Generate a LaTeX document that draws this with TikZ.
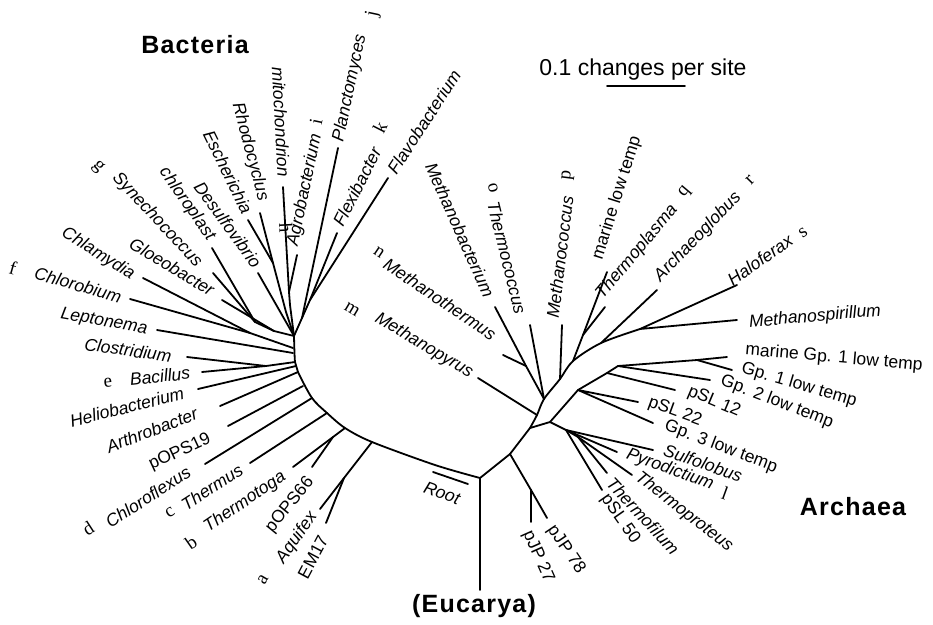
\documentclass[tikz,border=0pt]{standalone}
\usepackage{fontspec}
\setmainfont{Liberation Serif}
\setsansfont{Liberation Sans}
\newfontfamily\domfont[LetterSpace=5]{Liberation Sans}
\begin{document}
\begin{tikzpicture}[x=1pt,y=-1pt,
  br/.style={line width=1.8pt, line cap=round, line join=round},
  sp/.style={font=\fontsize{17.5}{18}\selectfont\sffamily\itshape, inner sep=0pt},
  cl/.style={font=\fontsize{17.5}{18}\selectfont\sffamily, inner sep=0pt},
  lt/.style={font=\fontsize{19}{20}\selectfont\rmfamily, inner sep=0pt},
  dom/.style={font=\fontsize{25}{26}\selectfont\domfont\bfseries, inner sep=0pt},
  sc/.style={font=\fontsize{23}{24}\selectfont\sffamily, inner sep=0pt}]
\fill[white] (0,0) rectangle (933,624);
\useasboundingbox (0,0) rectangle (933,624);

% ---------- root and eucarya
\coordinate (R) at (480,478);
\coordinate (Euk) at (480,590);
\draw[br] (R) -- (Euk);
\coordinate (rootA) at (433,472);
\coordinate (rootB) at (468,484);
\draw[br] (rootA) -- (rootB);

% ---------- bacterial stem
\coordinate (H0) at (294,336);
\coordinate (S1) at (293,348);
\coordinate (S2) at (293,353);
\coordinate (S3) at (295,362);
\coordinate (S4) at (296,366);
\coordinate (S5) at (298,372);
\coordinate (S6) at (303,386);
\coordinate (S7) at (312,398);
\coordinate (S8) at (327,413);
\coordinate (S9) at (345,428);
\coordinate (S10) at (372,442);
\coordinate (S11) at (435,465);
\draw[br] plot[smooth, tension=0.5] coordinates {(H0) (S3) (S5) (S7) (S8) (S9) (S10) (S11) (R)};

% tips and inner nodes (bacteria)
\coordinate (tPlan) at (338,148);
\coordinate (tFlex) at (337,233);
\coordinate (tFlavo) at (388,178);
\coordinate (K1) at (310,300);
\coordinate (K2) at (302,318);
\draw[br] (tFlavo) -- (K1) -- (K2) -- (H0);
\draw[br] (tFlex) -- (K1);
\draw[br] (tPlan) -- (K2);

\coordinate (tMito) at (283,187);
\coordinate (Ag) at (289,292);
\coordinate (M1) at (290,305);
\coordinate (tAgro) at (297,255);
\draw[br] (tMito) -- (Ag) -- (M1) -- (H0);
\draw[br] (tAgro) -- (Ag);
\coordinate (tRhodo) at (260,213);
\coordinate (R2) at (273,263);
\coordinate (R1) at (286,312);
\coordinate (tEsch) at (248,220);
\draw[br] (tRhodo) -- (R2) -- (R1) -- (H0);
\draw[br] (tEsch) -- (R2);
\coordinate (tDesulf) at (258,273);
\draw[br] (tDesulf) -- (H0);

\coordinate (tChloro) at (212,248);
\coordinate (tSyn) at (213,273);
\coordinate (Cy1) at (255,322);
\coordinate (tGloeo) at (222,300);
\coordinate (Cy2) at (274,331);
\draw[br] (tChloro) -- (Cy1) -- (Cy2) -- (H0);
\draw[br] (tSyn) -- (Cy1);
\draw[br] (tGloeo) -- (Cy2);

\coordinate (tChlam) at (143,278);
\coordinate (tChlor) at (130,299);
\coordinate (Ch1) at (250,333);
\draw[br] (tChlam) -- (Ch1) -- (S1);
\draw[br] (tChlor) -- (Ch1);
\coordinate (tLept) at (157,330);
\draw[br] (tLept) -- (S2);
\coordinate (tClos) at (187,357);
\coordinate (tBac) at (202,372);
\coordinate (Bc) at (266,366);
\draw[br] (tClos) -- (Bc) -- (S3);
\draw[br] (tBac) -- (Bc);
\coordinate (tHelio) at (198,389);
\draw[br] (tHelio) -- (S4);
\coordinate (tArth) at (220,406);
\draw[br] (tArth) -- (S5);
\coordinate (tP19) at (228,426);
\draw[br] (tP19) -- (S6);
\coordinate (tChfl) at (205,464);
\draw[br] (tChfl) -- (S7);
\coordinate (tThs) at (250,463);
\draw[br] (tThs) -- (S8);
\coordinate (tTga) at (293,467);
\coordinate (T66) at (333,437);
\coordinate (tP66) at (312,467);
\draw[br] (tTga) -- (T66) -- (S9);
\draw[br] (tP66) -- (T66);
\coordinate (tAqu) at (320,509);
\coordinate (Em1) at (344,478);
\coordinate (tEM) at (326,523);
\draw[br] (tAqu) -- (Em1) -- (S10);
\draw[br] (tEM) -- (Em1);

% ---------- archaea
\coordinate (J1) at (510,454);
\coordinate (V) at (530,428);
\coordinate (Mp) at (537,415);
\coordinate (E1) at (544,399);
\coordinate (E2) at (560,379);
\coordinate (E3) at (573,361);
\coordinate (E4) at (601,343);
\coordinate (E5) at (640,329);
\draw[br] (R) -- (J1) -- (V);
\draw[br] plot[smooth, tension=0.5] coordinates {(V) (Mp) (E1) (E2) (E3) (E4) (E5)};
\coordinate (tJ78) at (547,518);
\coordinate (J27) at (531,490);
\coordinate (tJ27) at (531,522);
\draw[br] (J1) -- (J27) -- (tJ78);
\draw[br] (J27) -- (tJ27);

\coordinate (tMpyr) at (478,378);
\draw[br] (tMpyr) -- (Mp);
\coordinate (tMbact) at (495,307);
\coordinate (Mt1) at (526,366);
\coordinate (tMtherm) at (503,355);
\draw[br] (tMbact) -- (Mt1) -- (E1);
\draw[br] (tMtherm) -- (Mt1);
\coordinate (tTcoc) at (530,325);
\draw[br] (tTcoc) -- (E1);
\coordinate (tMcoc) at (562,325);
\draw[br] (tMcoc) -- (E2);
\coordinate (tMar) at (607,272);
\coordinate (Tp1) at (583,335);
\coordinate (tTpl) at (605,307);
\draw[br] (tMar) -- (Tp1) -- (E3);
\draw[br] (tTpl) -- (Tp1);
\coordinate (tArch) at (657,290);
\draw[br] (tArch) -- (E4);
\coordinate (tHalo) at (737,285);
\coordinate (tMspir) at (737,320);
\draw[br] (tHalo) -- (E5) -- (tMspir);

\coordinate (K) at (550,422);
\coordinate (P) at (578,390);
\coordinate (Q) at (607,373);
\coordinate (T) at (618,366);
\coordinate (U) at (697,360);
\coordinate (tMG1) at (727,357);
\draw[br] (V) -- (K) -- (P) -- (Q) -- (T) -- (U) -- (tMG1);
\coordinate (tSL22) at (638,402);
\coordinate (tG3) at (653,423);
\draw[br] (tSL22) -- (P) -- (tG3);
\coordinate (tSL12) at (675,390);
\draw[br] (Q) -- (tSL12);
\coordinate (tG2) at (710,380);
\draw[br] (T) -- (tG2);
\coordinate (tG1) at (732,370);
\draw[br] (U) -- (tG1);
\coordinate (C) at (566,430);
\coordinate (C2) at (578,437);
\coordinate (tSulf) at (653,450);
\coordinate (tPyro) at (617,452);
\coordinate (tTprot) at (632,475);
\coordinate (tTfil) at (607,473);
\coordinate (tSL50) at (602,490);
\draw[br] (K) -- (C) -- (tSulf);
\draw[br] (C) -- (tPyro);
\draw[br] (C) -- (C2) -- (tTprot);
\draw[br] (C2) -- (tTfil);
\draw[br] (C) -- (tSL50);

% ---------- scale bar
\coordinate (sbA) at (607,86);
\coordinate (sbB) at (685,86);
\draw[br] (sbA) -- (sbB);
\node[sc] (scale) at (643,70) {0.1 changes per site};

% ---------- domain labels
\node[dom] (bact) at (195,45) {Bacteria};
\node[dom] (arch) at (853,507) {Archaea};
\node[dom] (euk) at (474,606) {(Eucarya)};
\node[sp, rotate=-20] (lRoot) at (442,493) {Root};

% ---------- bacteria labels
\node[sp, rotate=78] (lPlan) at (350,88) {Planctomyces};
\node[lt, rotate=78] (lj) at (373,14) {j};
\node[sp, rotate=78] (lAgro) at (305,190) {Agrobacterium};
\node[lt, rotate=78] (li) at (316,122) {i};
\node[sp, rotate=-87] (lMito) at (281,122) {mitochondrion};
\node[lt, rotate=-87] (lh) at (286,228) {h};
\node[sp, rotate=-75] (lRhodo) at (250,152) {Rhodocyclus};
\node[sp, rotate=-64] (lEsch) at (228,172) {Escherichia};
\node[sp, rotate=-54] (lDesulf) at (228,225) {Desulfovibrio};
\node[sp, rotate=-55] (lChloro) at (187,204) {chloroplast};
\node[lt, rotate=-47] (lg) at (98,167) {g};
\node[sp, rotate=-47] (lSyn) at (157,220) {Synechococcus};
\node[sp, rotate=-31] (lGloeo) at (172,267) {Gloeobacter};
\node[sp, rotate=-32] (lChlam) at (98,254) {Chlamydia};
\node[lt, rotate=-16] (lf) at (13,268) {f};
\node[sp, rotate=-16] (lChlor) at (78,285) {Chlorobium};
\node[sp, rotate=-10] (lLept) at (104,322) {Leptonema};
\node[sp, rotate=-8] (lClos) at (128,350) {Clostridium};
\node[lt, rotate=5] (le) at (108,383) {e};
\node[sp, rotate=6] (lBac) at (160,376) {Bacillus};
\node[sp, rotate=14] (lHelio) at (127,407) {Heliobacterium};
\node[sp, rotate=21] (lArth) at (152,430) {Arthrobacter};
\node[cl, rotate=25] (lP19) at (180,452) {pOPS19};
\node[lt, rotate=33] (ld) at (88,528) {d};
\node[sp, rotate=33] (lChfl) at (148,497) {Chloroflexus};
\node[lt, rotate=33] (lc) at (170,513) {c};
\node[sp, rotate=33] (lThs) at (212,487) {Thermus};
\node[lt, rotate=35] (lb) at (191,542) {b};
\node[sp, rotate=34] (lTga) at (245,502) {Thermotoga};
\node[cl, rotate=51] (lP66) at (290,505) {pOPS66};
\node[lt, rotate=60] (la) at (263,580) {a};
\node[sp, rotate=55] (lAqu) at (297,538) {Aquifex};
\node[cl, rotate=62] (lEM) at (313,557) {EM17};
\node[sp, rotate=63] (lFlex) at (357,187) {Flexibacter};
\node[lt, rotate=63] (lk) at (380,127) {k};
\node[sp, rotate=57] (lFlavo) at (424,122) {Flavobacterium};

% ---------- archaea labels
\node[lt, rotate=-34] (ln) at (379,252) {n};
\node[sp, rotate=-34] (lMtherm) at (440,299) {Methanothermus};
\node[lt, rotate=-31] (lm) at (352,309) {m};
\node[sp, rotate=-31] (lMpyr) at (424,346) {Methanopyrus};
\node[sp, rotate=-66] (lMbact) at (460,230) {Methanobacterium};
\node[lt, rotate=-76] (lo) at (493,188) {o};
\node[sp, rotate=-76] (lTcoc) at (507,258) {Thermococcus};
\node[sp, rotate=83] (lMcoc) at (560,257) {Methanococcus};
\node[lt, rotate=83] (lp) at (568,175) {p};
\node[cl, rotate=72.5] (lMar) at (617,198) {marine low temp};
\node[sp, rotate=50] (lTpl) at (637,252) {Thermoplasma};
\node[lt, rotate=50] (lq) at (685,192) {q};
\node[sp, rotate=46] (lArch) at (698,237) {Archaeoglobus};
\node[lt, rotate=46] (lr) at (750,180) {r};
\node[sp, rotate=35] (lHalo) at (760,260) {Haloferax};
\node[lt, rotate=35] (ls) at (803,233) {s};
\node[sp, rotate=5] (lMspir) at (815,317) {Methanospirillum};
\node[cl, rotate=-5] (lMG1) at (834,358) {marine Gp. 1 low temp};
\node[cl, rotate=-16.5] (lG1) at (799,385) {Gp. 1 low temp};
\node[cl, rotate=-21] (lG2) at (777,402) {Gp. 2 low temp};
\node[cl, rotate=-23] (lSL12) at (714,402) {pSL 12};
\node[cl, rotate=-20] (lSL22) at (675,412) {pSL 22};
\node[cl, rotate=-21] (lG3) at (721,447) {Gp. 3 low temp};
\node[sp, rotate=-19] (lSulf) at (703,463) {Sulfolobus};
\node[sp, rotate=-20] (lPyro) at (670,470) {Pyrodictium};
\node[lt, rotate=-20] (ll) at (725,493) {l};
\node[sp, rotate=-38] (lTprot) at (684,512) {Thermoproteus};
\node[sp, rotate=-47] (lTfil) at (643,516) {Thermofilum};
\node[cl, rotate=-55] (lSL50) at (620,519) {pSL 50};
\node[cl, rotate=-56] (lJ78) at (566,550) {pJP 78};
\node[cl, rotate=-66] (lJ27) at (538,557) {pJP 27};
\end{tikzpicture}
\end{document}
